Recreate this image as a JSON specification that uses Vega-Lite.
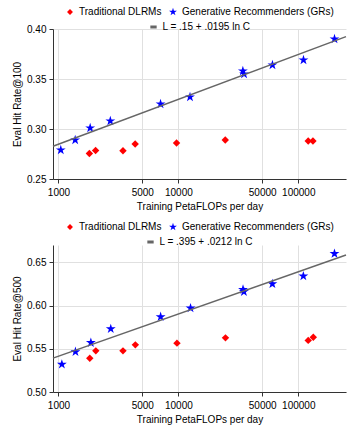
{
  "$schema": "https://vega.github.io/schema/vega-lite/v6.json",
  "padding": {"left": 12, "top": 7, "right": 16, "bottom": 5},
  "datasets": {
    "top_pts": [
      {"flops": 1045, "hitrate": 0.279, "series": "Generative Recommenders (GRs)"},
      {"flops": 1378, "hitrate": 0.289, "series": "Generative Recommenders (GRs)"},
      {"flops": 1838, "hitrate": 0.301, "series": "Generative Recommenders (GRs)"},
      {"flops": 2706, "hitrate": 0.308, "series": "Generative Recommenders (GRs)"},
      {"flops": 7100, "hitrate": 0.325, "series": "Generative Recommenders (GRs)"},
      {"flops": 12500, "hitrate": 0.332, "series": "Generative Recommenders (GRs)"},
      {"flops": 34500, "hitrate": 0.358, "series": "Generative Recommenders (GRs)"},
      {"flops": 35300, "hitrate": 0.355, "series": "Generative Recommenders (GRs)"},
      {"flops": 60900, "hitrate": 0.364, "series": "Generative Recommenders (GRs)"},
      {"flops": 110500, "hitrate": 0.369, "series": "Generative Recommenders (GRs)"},
      {"flops": 200500, "hitrate": 0.390, "series": "Generative Recommenders (GRs)"},
      {"flops": 1810, "hitrate": 0.2755, "series": "Traditional DLRMs"},
      {"flops": 2040, "hitrate": 0.2785, "series": "Traditional DLRMs"},
      {"flops": 3450, "hitrate": 0.2783, "series": "Traditional DLRMs"},
      {"flops": 4360, "hitrate": 0.285, "series": "Traditional DLRMs"},
      {"flops": 9650, "hitrate": 0.286, "series": "Traditional DLRMs"},
      {"flops": 24600, "hitrate": 0.289, "series": "Traditional DLRMs"},
      {"flops": 121000, "hitrate": 0.288, "series": "Traditional DLRMs"},
      {"flops": 132500, "hitrate": 0.288, "series": "Traditional DLRMs"}
    ],
    "top_fit": [
      {"flops": 900, "hitrate": 0.2827, "label": "L = .15 + .0195 ln C"},
      {"flops": 250000, "hitrate": 0.3924, "label": "L = .15 + .0195 ln C"}
    ],
    "bot_pts": [
      {"flops": 1067, "hitrate": 0.532, "series": "Generative Recommenders (GRs)"},
      {"flops": 1385, "hitrate": 0.5465, "series": "Generative Recommenders (GRs)"},
      {"flops": 1862, "hitrate": 0.557, "series": "Generative Recommenders (GRs)"},
      {"flops": 2729, "hitrate": 0.573, "series": "Generative Recommenders (GRs)"},
      {"flops": 7110, "hitrate": 0.587, "series": "Generative Recommenders (GRs)"},
      {"flops": 12630, "hitrate": 0.597, "series": "Generative Recommenders (GRs)"},
      {"flops": 34600, "hitrate": 0.6185, "series": "Generative Recommenders (GRs)"},
      {"flops": 35200, "hitrate": 0.616, "series": "Generative Recommenders (GRs)"},
      {"flops": 60800, "hitrate": 0.625, "series": "Generative Recommenders (GRs)"},
      {"flops": 110200, "hitrate": 0.634, "series": "Generative Recommenders (GRs)"},
      {"flops": 200400, "hitrate": 0.660, "series": "Generative Recommenders (GRs)"},
      {"flops": 1824, "hitrate": 0.539, "series": "Traditional DLRMs"},
      {"flops": 2048, "hitrate": 0.5476, "series": "Traditional DLRMs"},
      {"flops": 3450, "hitrate": 0.5476, "series": "Traditional DLRMs"},
      {"flops": 4375, "hitrate": 0.5545, "series": "Traditional DLRMs"},
      {"flops": 9730, "hitrate": 0.5565, "series": "Traditional DLRMs"},
      {"flops": 24700, "hitrate": 0.5626, "series": "Traditional DLRMs"},
      {"flops": 121000, "hitrate": 0.5597, "series": "Traditional DLRMs"},
      {"flops": 133400, "hitrate": 0.5634, "series": "Traditional DLRMs"}
    ],
    "bot_fit": [
      {"flops": 900, "hitrate": 0.5392, "label": "L = .395 + .0212 ln C"},
      {"flops": 250000, "hitrate": 0.6585, "label": "L = .395 + .0212 ln C"}
    ]
  },
  "vconcat": [
    {
      "width": 293,
      "height": 150,
      "layer": [
        {
          "data": {"name": "top_pts"},
          "mark": {"type": "point", "filled": true, "opacity": 1, "size": 55},
          "encoding": {
            "x": {"field": "flops", "type": "quantitative", "scale": {"type": "log", "domain": [900, 250000], "nice": false}, "axis": {"values": [1000, 5000, 10000, 50000, 100000], "format": "d", "title": "Training PetaFLOPs per day"}},
            "y": {"field": "hitrate", "type": "quantitative", "scale": {"domain": [0.25, 0.40], "nice": false, "zero": false}, "axis": {"values": [0.25, 0.30, 0.35, 0.40], "format": ".2f", "title": "Eval Hit Rate@100"}},
            "fill": {"field": "series", "type": "nominal", "sort": ["Traditional DLRMs", "Generative Recommenders (GRs)"], "scale": {"domain": ["Traditional DLRMs", "Generative Recommenders (GRs)"], "range": ["#ff0000", "#0000ff"]}, "legend": {"title": null, "symbolSize": 35}},
            "shape": {"field": "series", "type": "nominal", "sort": ["Traditional DLRMs", "Generative Recommenders (GRs)"], "scale": {"domain": ["Traditional DLRMs", "Generative Recommenders (GRs)"], "range": ["diamond", "M0,-1.4L0.3143,-0.4326L1.3314,-0.4326L0.5086,0.1652L0.8229,1.1326L0,0.5348L-0.8229,1.1326L-0.5086,0.1652L-1.3314,-0.4326L-0.3143,-0.4326Z"]}, "legend": {"title": null, "symbolSize": 35}}
          }
        },
        {
          "data": {"name": "top_fit"},
          "mark": {"type": "line", "strokeWidth": 1.5},
          "encoding": {
            "x": {"field": "flops", "type": "quantitative"},
            "y": {"field": "hitrate", "type": "quantitative"},
            "stroke": {"field": "label", "type": "nominal", "scale": {"range": ["#666666"]}, "legend": {"title": null, "symbolStrokeWidth": 3, "symbolSize": 40}}
          }
        }
      ]
    },
    {
      "width": 293,
      "height": 147,
      "layer": [
        {
          "data": {"name": "bot_pts"},
          "mark": {"type": "point", "filled": true, "opacity": 1, "size": 55},
          "encoding": {
            "x": {"field": "flops", "type": "quantitative", "scale": {"type": "log", "domain": [900, 250000], "nice": false}, "axis": {"values": [1000, 5000, 10000, 50000, 100000], "format": "d", "title": "Training PetaFLOPs per day"}},
            "y": {"field": "hitrate", "type": "quantitative", "scale": {"domain": [0.50, 0.67], "nice": false, "zero": false}, "axis": {"values": [0.50, 0.55, 0.60, 0.65], "format": ".2f", "title": "Eval Hit Rate@500"}},
            "fill": {"field": "series", "type": "nominal", "sort": ["Traditional DLRMs", "Generative Recommenders (GRs)"], "scale": {"domain": ["Traditional DLRMs", "Generative Recommenders (GRs)"], "range": ["#ff0000", "#0000ff"]}, "legend": {"title": null, "symbolSize": 35, "offset": -3}},
            "shape": {"field": "series", "type": "nominal", "sort": ["Traditional DLRMs", "Generative Recommenders (GRs)"], "scale": {"domain": ["Traditional DLRMs", "Generative Recommenders (GRs)"], "range": ["diamond", "M0,-1.4L0.3143,-0.4326L1.3314,-0.4326L0.5086,0.1652L0.8229,1.1326L0,0.5348L-0.8229,1.1326L-0.5086,0.1652L-1.3314,-0.4326L-0.3143,-0.4326Z"]}, "legend": {"title": null, "symbolSize": 35, "offset": -3}}
          }
        },
        {
          "data": {"name": "bot_fit"},
          "mark": {"type": "line", "strokeWidth": 1.5},
          "encoding": {
            "x": {"field": "flops", "type": "quantitative"},
            "y": {"field": "hitrate", "type": "quantitative"},
            "stroke": {"field": "label", "type": "nominal", "scale": {"range": ["#666666"]}, "legend": {"title": null, "symbolStrokeWidth": 3, "symbolSize": 40, "offset": -3}}
          }
        }
      ]
    }
  ],
  "spacing": 11,
  "resolve": {
    "scale": {"x": "independent", "y": "independent", "fill": "independent", "shape": "independent", "stroke": "independent"},
    "legend": {"fill": "independent", "shape": "independent", "stroke": "independent"}
  },
  "config": {
    "font": "Liberation Sans",
    "view": {"stroke": null},
    "axis": {
      "labelFont": "Liberation Sans", "labelFontSize": 10, "labelColor": "#000000",
      "titleFont": "Liberation Sans", "titleFontSize": 10, "titleFontWeight": "normal", "titleColor": "#000000",
      "domainColor": "#333333", "tickColor": "#333333", "gridColor": "#e0e0e0", "tickSize": 4, "labelPadding": 3
    },
    "axisX": {"titlePadding": 4, "labelPadding": 4},
    "axisY": {"titlePadding": 4},
    "legend": {
      "orient": "top",
      "labelFont": "Liberation Sans", "labelFontSize": 10, "labelColor": "#000000", "labelLimit": 400,
      "padding": 0, "offset": -4, "columnPadding": 4, "labelOffset": 4, "symbolOpacity": 1, "gridAlign": "none",
      "layout": {"top": {"anchor": "middle", "direction": "vertical", "center": true, "margin": 3}}
    }
  }
}
